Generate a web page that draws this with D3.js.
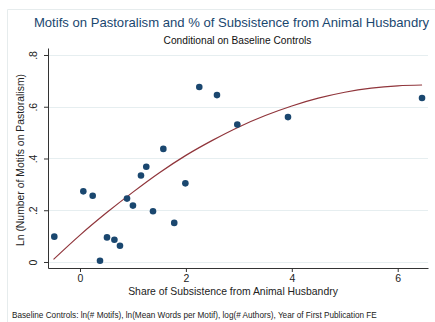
<!DOCTYPE html>
<html>
<head>
<meta charset="utf-8">
<script src="https://cdn.jsdelivr.net/npm/d3@7"></script>
<style>
  body { margin: 0; background: #fff; }
  svg { display: block; font-family: "Liberation Sans", Arial, sans-serif; }
</style>
</head>
<body>
<div id="chart"></div>
<script>
// scatter points (residualized values)
const shareX = [-0.485, 0.063, 0.24, 0.378, 0.51, 0.65, 0.755, 0.888, 1.0, 1.152,
                1.252, 1.379, 1.574, 1.78, 1.99, 2.253, 2.587, 2.971, 3.928, 6.459];
const motifsY = [0.098, 0.273, 0.256, 0.005, 0.095, 0.086, 0.063, 0.245, 0.218, 0.334,
                 0.368, 0.196, 0.437, 0.151, 0.304, 0.676, 0.645, 0.531, 0.560, 0.634];

// quadratic fit line
const fitX = [-0.5, 0, 0.5, 1, 1.5, 2, 2.5, 3, 3.5, 4, 4.5, 5, 5.5, 6, 6.46];
const fitY = [0.010, 0.104, 0.19, 0.27, 0.345, 0.412, 0.47, 0.522, 0.566, 0.603,
              0.633, 0.656, 0.672, 0.681, 0.684];

const xTicks = [0, 2, 4, 6];
const yTicks = [0, 0.2, 0.4, 0.6, 0.8];
const yTickLabels = ['0', '.2', '.4', '.6', '.8'];

const W = 435, H = 322;
const plot = { left: 48, right: 428, top: 48, bottom: 268 };

const svg = d3.select('#chart').append('svg')
    .attr('width', W)
    .attr('height', H);

// faint outer frame
svg.append('path')
    .attr('d', `M7.5,${H} V9.5 H${W}`)
    .attr('fill', 'none')
    .attr('stroke', '#e6eced')
    .attr('stroke-width', 1);

const x = d3.scaleLinear().domain([-0.604, 6.572]).range([plot.left, plot.right]);
const y = d3.scaleLinear().domain([-0.0232, 0.827]).range([plot.bottom, plot.top]);

// gridlines
svg.append('g')
    .selectAll('line')
    .data(yTicks)
    .join('line')
    .attr('x1', plot.left)
    .attr('x2', plot.right)
    .attr('y1', d => Math.round(y(d)) + 0.5)
    .attr('y2', d => Math.round(y(d)) + 0.5)
    .attr('stroke', '#e6eef0')
    .attr('stroke-width', 1.2);

// axes
const xAxis = svg.append('g')
    .attr('transform', `translate(0,${plot.bottom})`)
    .call(d3.axisBottom(x).tickValues(xTicks).tickSize(4).tickSizeOuter(0).tickFormat(d3.format('d')));
xAxis.select('.domain').attr('stroke', '#333');
xAxis.selectAll('.tick line').attr('stroke', '#333');
xAxis.selectAll('.tick text')
    .attr('font-size', 10.5)
    .attr('fill', '#222')
    .attr('y', 7);

const yAxis = svg.append('g')
    .attr('transform', `translate(${plot.left},0)`)
    .call(d3.axisLeft(y).tickValues(yTicks).tickSize(4).tickSizeOuter(0)
        .tickFormat((d, i) => yTickLabels[i]));
yAxis.select('.domain').attr('stroke', '#333');
yAxis.selectAll('.tick line').attr('stroke', '#333');
yAxis.selectAll('.tick text')
    .attr('font-size', 10.5)
    .attr('fill', '#222')
    .attr('x', 0)
    .attr('dy', 0)
    .attr('text-anchor', 'middle')
    .attr('transform', 'translate(-11,0) rotate(-90)');

// fit line
svg.append('path')
    .datum(fitX.map((d, i) => [d, fitY[i]]))
    .attr('fill', 'none')
    .attr('stroke', '#90353b')
    .attr('stroke-width', 1.2)
    .attr('d', d3.line().x(d => x(d[0])).y(d => y(d[1])).curve(d3.curveMonotoneX));

// points
svg.append('g')
    .selectAll('circle')
    .data(shareX.map((d, i) => [d, motifsY[i]]))
    .join('circle')
    .attr('cx', d => x(d[0]))
    .attr('cy', d => y(d[1]))
    .attr('r', 3.3)
    .attr('fill', '#1a476f');

// titles
svg.append('text')
    .attr('x', 231.5)
    .attr('y', 27)
    .attr('text-anchor', 'middle')
    .attr('font-size', 13.1)
    .attr('fill', '#1a476f')
    .text('Motifs on Pastoralism and % of Subsistence from Animal Husbandry');

svg.append('text')
    .attr('x', 237.5)
    .attr('y', 44)
    .attr('text-anchor', 'middle')
    .attr('font-size', 10.2)
    .attr('fill', '#111')
    .text('Conditional on Baseline Controls');

svg.append('text')
    .attr('x', 233)
    .attr('y', 295)
    .attr('text-anchor', 'middle')
    .attr('font-size', 10.4)
    .attr('fill', '#222')
    .text('Share of Subsistence from Animal Husbandry');

svg.append('text')
    .attr('transform', 'translate(24,160) rotate(-90)')
    .attr('text-anchor', 'middle')
    .attr('font-size', 10.4)
    .attr('fill', '#222')
    .text('Ln (Number of Motifs on Pastoralism)');

svg.append('text')
    .attr('x', 12)
    .attr('y', 318)
    .attr('font-size', 8.2)
    .attr('fill', '#222')
    .text('Baseline Controls: ln(# Motifs), ln(Mean Words per Motif), log(# Authors), Year of First Publication FE');
</script>
</body>
</html>
